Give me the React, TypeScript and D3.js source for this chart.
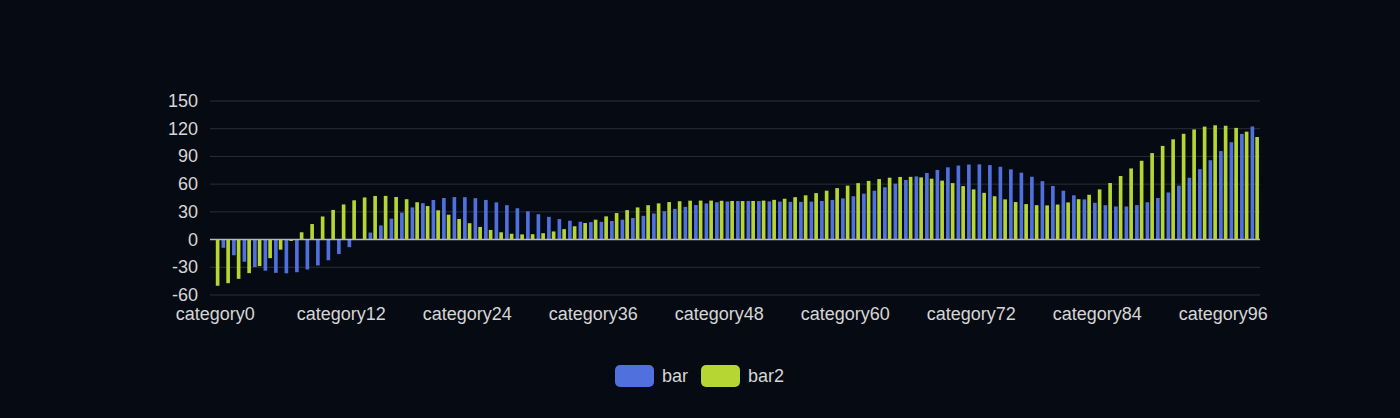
import React, { useEffect } from "react";
import * as d3 from "d3";

const barValues: number[] = [
  0, -8.9, -17.0, -24.0, -29.7, -33.7, -36.0, -36.5, -35.3, -32.4,
  -28.0, -22.4, -15.7, -8.2, -0.4, 7.6, 15.3, 22.6, 29.2, 34.8,
  39.4, 42.8, 45.0, 46.0, 45.9, 44.8, 42.9, 40.3, 37.2, 33.9,
  30.6, 27.4, 24.6, 22.2, 20.4, 19.3, 18.9, 19.2, 20.1, 21.5,
  23.4, 25.7, 28.2, 30.7, 33.2, 35.4, 37.4, 39.1, 40.4, 41.2,
  41.7, 41.8, 41.7, 41.4, 41.1, 40.8, 40.8, 41.1, 41.8, 42.9,
  44.6, 46.9, 49.7, 52.9, 56.6, 60.5, 64.5, 68.4, 72.1, 75.4,
  78.2, 80.1, 81.2, 81.4, 80.6, 78.8, 76.0, 72.4, 68.0, 63.2,
  58.0, 52.9, 47.9, 43.5, 39.8, 37.2, 35.8, 35.8, 37.3, 40.4,
  45.0, 51.0, 58.4, 66.9, 76.2, 85.9, 95.8, 105.4, 114.4, 122.4,
];

const bar2Values: number[] = [
  -50.0, -47.2, -42.5, -36.3, -28.7, -20.1, -10.9, -1.5, 7.9, 16.8,
  25.0, 32.1, 38.0, 42.5, 45.6, 47.2, 47.3, 46.1, 43.7, 40.4,
  36.3, 31.7, 26.9, 22.2, 17.7, 13.7, 10.4, 7.9, 6.3, 5.6,
  5.8, 6.9, 8.8, 11.3, 14.4, 17.9, 21.5, 25.1, 28.7, 31.9,
  34.8, 37.2, 39.2, 40.6, 41.5, 42.1, 42.2, 42.2, 42.0, 41.8,
  41.7, 41.8, 42.2, 43.0, 44.2, 45.9, 47.9, 50.3, 52.9, 55.7,
  58.4, 61.1, 63.5, 65.5, 67.0, 67.8, 67.9, 67.3, 65.9, 63.8,
  61.1, 57.9, 54.3, 50.6, 46.9, 43.5, 40.6, 38.4, 37.2, 37.0,
  37.9, 40.2, 43.7, 48.5, 54.3, 61.2, 68.8, 77.0, 85.3, 93.6,
  101.4, 108.5, 114.5, 119.2, 122.3, 123.7, 123.2, 120.9, 116.8, 111.0,
];

const categories: string[] = barValues.map((_, i) => `category${i}`);
const yTicks: number[] = [-60, -30, 0, 30, 60, 90, 120, 150];
const xLabelEvery = 12;
const seriesNames: string[] = ["bar", "bar2"];

const W = 1400;
const H = 418;
const BG = "#060a13";
const COLORS = ["#5070dd", "#b6d634"];
const TEXT = "#d6d6d6";
const FONT = "'Liberation Sans', Arial, Helvetica, sans-serif";

export default function App() {
  useEffect(() => {
    document.body.style.margin = "0";
    document.body.style.background = BG;
  }, []);

  const left = 210;
  const right = 1260;
  const top = 101;
  const bottom = 295;

  const x = d3.scaleBand<string>().domain(categories).range([left, right]).padding(0);
  const y = d3.scaleLinear().domain([-60, 150]).range([bottom, top]);

  const bw = x.bandwidth();
  const groupW = bw * 0.8;
  const inner = d3
    .scaleBand<string>()
    .domain(seriesNames)
    .range([0, groupW])
    .paddingInner(0.3 / 1.3)
    .paddingOuter(0);

  const series = [barValues, bar2Values];
  const y0 = y(0);

  return (
    <svg
      width={W}
      height={H}
      style={{ position: "absolute", left: 0, top: 0, display: "block" }}
      fontFamily={FONT}
    >
      <rect x={0} y={0} width={W} height={H} fill={BG} />
      {yTicks.map((t) => (
        <g key={t}>
          {t !== 0 && (
            <line x1={left} x2={right} y1={y(t)} y2={y(t)} stroke="#2a2e37" strokeWidth={1} />
          )}
          <text
            x={left - 12}
            y={y(t)}
            textAnchor="end"
            dominantBaseline="central"
            fill={TEXT}
            fontSize={18}
          >
            {t}
          </text>
        </g>
      ))}
      {series.map((vals, si) => (
        <g key={si} fill={COLORS[si]}>
          {vals.map((v, i) => {
            const bx = (x(categories[i]) as number) + (bw - groupW) / 2 + (inner(seriesNames[si]) as number);
            const yv = y(v);
            return (
              <rect
                key={i}
                x={bx}
                y={Math.min(yv, y0)}
                width={inner.bandwidth()}
                height={Math.abs(yv - y0)}
              />
            );
          })}
        </g>
      ))}
      <line x1={left} x2={right} y1={y0} y2={y0} stroke="#b8b8b8" strokeWidth={1.5} />
      {categories.map((c, i) =>
        i % xLabelEvery === 0 ? (
          <text
            key={c}
            x={(x(c) as number) + bw / 2}
            y={320}
            textAnchor="middle"
            fill={TEXT}
            fontSize={18}
          >
            {c}
          </text>
        ) : null
      )}
      <g>
        <rect x={615} y={365} width={39} height={22} rx={5} fill={COLORS[0]} />
        <text x={662} y={376} dominantBaseline="central" fill={TEXT} fontSize={18}>
          {seriesNames[0]}
        </text>
        <rect x={701} y={365} width={39} height={22} rx={5} fill={COLORS[1]} />
        <text x={748} y={376} dominantBaseline="central" fill={TEXT} fontSize={18}>
          {seriesNames[1]}
        </text>
      </g>
    </svg>
  );
}
